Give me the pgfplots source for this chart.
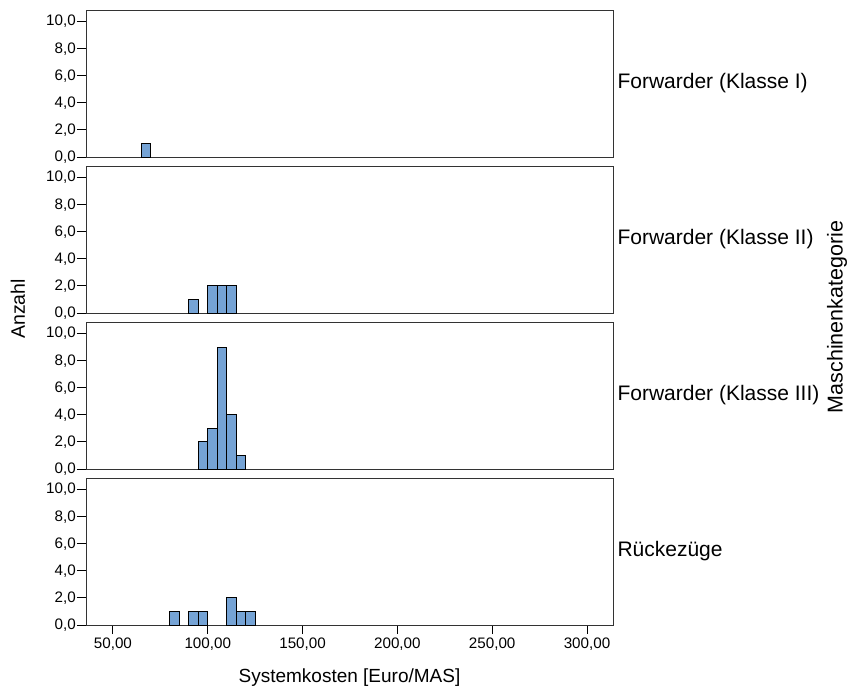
\documentclass[border=0pt]{standalone}
\usepackage{fontspec}
\setmainfont{Liberation Sans}
\usepackage{pgfplots}
\pgfplotsset{compat=1.18}
\definecolor{barblue}{RGB}{117,163,213}
\tikzset{plabel/.style={anchor=west, font=\fontsize{21}{24}\selectfont, xshift=1pt}}
\pgfplotsset{
  panel/.style={
    scale only axis, width=527pt, height=147pt,
    xmin=35.8, xmax=313.7, ymin=0, ymax=10.86,
    ytick={0,2,...,10}, clip=false,
    axis line style={draw=black!80, line width=0.9pt},
    tick align=outside, major tick length=9pt,
    tick style={black, line width=1pt},
    xtick pos=bottom, ytick pos=left,
    /pgf/number format/assume math mode=true,
    yticklabel style={/pgf/number format/fixed, /pgf/number format/fixed zerofill, /pgf/number format/precision=1, /pgf/number format/use comma, inner xsep=1pt},
    xticklabel style={/pgf/number format/fixed, /pgf/number format/fixed zerofill, /pgf/number format/precision=2, /pgf/number format/use comma},
    tick label style={font=\fontsize{15.2}{17}\selectfont},
    anchor=north west,
  },
  hbar/.style={ybar, bar width=5, bar shift=0pt, fill=barblue, draw=black, line width=1pt},
}
\begin{document}
\begin{tikzpicture}
\useasboundingbox (0,0) rectangle (847pt,-691pt);
% Panel 1
\begin{axis}[panel, at={(86pt,-10pt)}, xtick=\empty]
  \addplot[hbar] coordinates {(67.5,1)};
  \node[plabel] at (rel axis cs:1,0.5) {Forwarder (Klasse I)};
\end{axis}
% Panel 2
\begin{axis}[panel, at={(86pt,-166pt)}, xtick=\empty]
  \addplot[hbar] coordinates {(92.5,1) (102.5,2) (107.5,2) (112.5,2)};
  \node[plabel] at (rel axis cs:1,0.5) {Forwarder (Klasse II)};
\end{axis}
% Panel 3
\begin{axis}[panel, at={(86pt,-322pt)}, xtick=\empty]
  \addplot[hbar] coordinates {(97.5,2) (102.5,3) (107.5,9) (112.5,4) (117.5,1)};
  \node[plabel] at (rel axis cs:1,0.5) {Forwarder (Klasse III)};
\end{axis}
% Panel 4
\begin{axis}[panel, at={(86pt,-478pt)}, xtick={50,100,...,300}]
  \addplot[hbar] coordinates {(82.5,1) (92.5,1) (97.5,1) (112.5,2) (117.5,1) (122.5,1)};
  \node[plabel] at (rel axis cs:1,0.5) {Rückezüge};
\end{axis}
\node[rotate=90, font=\fontsize{19.5}{22}\selectfont] at (18pt,-309pt) {Anzahl};
\node[rotate=90, font=\fontsize{21.5}{24}\selectfont] at (837pt,-317pt) {Maschinenkategorie};
\node[font=\fontsize{19}{22}\selectfont] at (349.5pt,-678pt) {Systemkosten [Euro/MAS]};
\end{tikzpicture}
\end{document}
